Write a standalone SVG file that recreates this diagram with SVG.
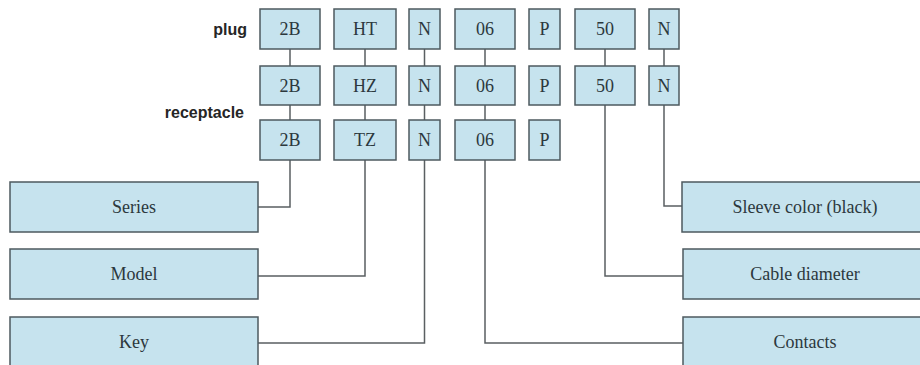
<svg xmlns="http://www.w3.org/2000/svg" width="920" height="365" viewBox="0 0 920 365">
<style>
.box{fill:#c6e3ee;stroke:#4d5a5f;stroke-width:1.5}
.t{font-family:"Liberation Serif","Times New Roman",serif;font-size:18px;fill:#2c383d;text-anchor:middle}
.lbl{font-family:"Liberation Sans",Arial,sans-serif;font-size:16px;font-weight:bold;fill:#262626;text-anchor:end}
.c{fill:none;stroke:#5a5f62;stroke-width:1.5}
</style>
<rect width="920" height="365" fill="#ffffff"/>
<g id="connectors">
<path class="c" d="M290 49V207H258"/>
<path class="c" d="M365 49V276H258"/>
<path class="c" d="M424.5 49V343H258"/>
<path class="c" d="M485 49V343H683"/>
<path class="c" d="M605 49V276H683"/>
<path class="c" d="M664 49V206H682"/>
</g>
<g id="labels">
<text class="lbl" x="247" y="35">plug</text>
<text class="lbl" x="244" y="118">receptacle</text>
</g>
<g id="plug-2B"><rect class="box" x="260" y="9" width="60" height="40"/><text class="t" x="290" y="35">2B</text></g>
<g id="plug-HT"><rect class="box" x="334" y="9" width="62" height="40"/><text class="t" x="365" y="35">HT</text></g>
<g id="plug-N"><rect class="box" x="409" y="9" width="31" height="40"/><text class="t" x="424.5" y="35">N</text></g>
<g id="plug-06"><rect class="box" x="455" y="9" width="60" height="40"/><text class="t" x="485" y="35">06</text></g>
<g id="plug-P"><rect class="box" x="529" y="9" width="31" height="40"/><text class="t" x="544.5" y="35">P</text></g>
<g id="plug-50"><rect class="box" x="575" y="9" width="60" height="40"/><text class="t" x="605" y="35">50</text></g>
<g id="plug-N2"><rect class="box" x="649" y="9" width="30" height="40"/><text class="t" x="664" y="35">N</text></g>

<g id="rec1-2B"><rect class="box" x="260" y="66" width="60" height="39"/><text class="t" x="290" y="92">2B</text></g>
<g id="rec1-HZ"><rect class="box" x="334" y="66" width="62" height="39"/><text class="t" x="365" y="92">HZ</text></g>
<g id="rec1-N"><rect class="box" x="409" y="66" width="31" height="39"/><text class="t" x="424.5" y="92">N</text></g>
<g id="rec1-06"><rect class="box" x="455" y="66" width="60" height="39"/><text class="t" x="485" y="92">06</text></g>
<g id="rec1-P"><rect class="box" x="529" y="66" width="31" height="39"/><text class="t" x="544.5" y="92">P</text></g>
<g id="rec1-50"><rect class="box" x="575" y="66" width="60" height="39"/><text class="t" x="605" y="92">50</text></g>
<g id="rec1-N2"><rect class="box" x="649" y="66" width="30" height="39"/><text class="t" x="664" y="92">N</text></g>

<g id="rec2-2B"><rect class="box" x="260" y="120" width="60" height="40"/><text class="t" x="290" y="146">2B</text></g>
<g id="rec2-TZ"><rect class="box" x="334" y="120" width="62" height="40"/><text class="t" x="365" y="146">TZ</text></g>
<g id="rec2-N"><rect class="box" x="409" y="120" width="31" height="40"/><text class="t" x="424.5" y="146">N</text></g>
<g id="rec2-06"><rect class="box" x="455" y="120" width="60" height="40"/><text class="t" x="485" y="146">06</text></g>
<g id="rec2-P"><rect class="box" x="529" y="120" width="31" height="40"/><text class="t" x="544.5" y="146">P</text></g>

<g id="series"><rect class="box" x="10" y="182" width="248" height="50"/><text class="t" x="134" y="213">Series</text></g>
<g id="model"><rect class="box" x="10" y="249" width="248" height="50"/><text class="t" x="134" y="280">Model</text></g>
<g id="key"><rect class="box" x="10" y="317" width="248" height="52"/><text class="t" x="134" y="348">Key</text></g>
<g id="sleeve"><rect class="box" x="682" y="182" width="248" height="50"/><text class="t" x="805" y="213">Sleeve color (black)</text></g>
<g id="cable"><rect class="box" x="683" y="249" width="247" height="50"/><text class="t" x="805" y="280">Cable diameter</text></g>
<g id="contacts"><rect class="box" x="683" y="317" width="247" height="52"/><text class="t" x="805" y="348">Contacts</text></g>
</svg>
